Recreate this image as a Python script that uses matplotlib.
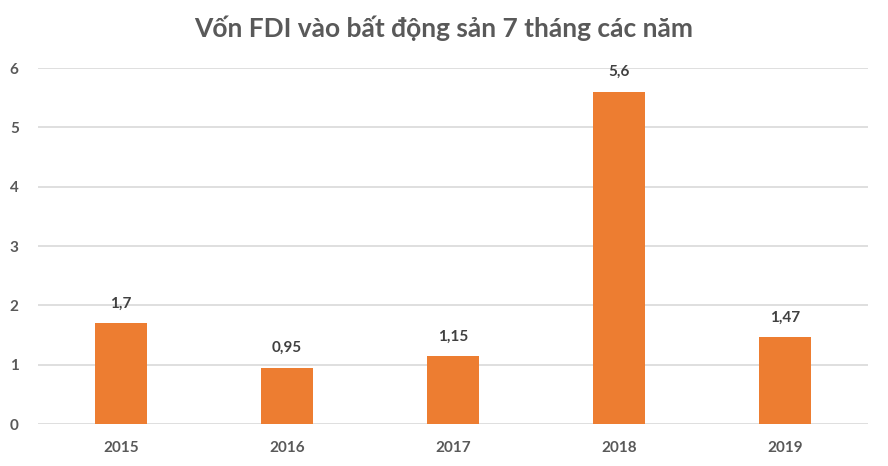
import matplotlib.pyplot as plt

years = ["2015", "2016", "2017", "2018", "2019"]
fdi = [1.7, 0.95, 1.15, 5.6, 1.47]
value_labels = ["1,7", "0,95", "1,15", "5,6", "1,47"]

plt.rcParams['font.family'] = ['Lato', 'DejaVu Sans']
grey = "#595959"


def main():
    fig = plt.figure(figsize=(8.88, 4.66), dpi=100)
    ax = fig.add_axes([0.043, 0.090, 0.934, 0.764])
    x = range(len(years))
    ax.bar(x, fdi, width=0.313, color="#ED7D31", zorder=3)
    for xi, v, lab in zip(x, fdi, value_labels):
        ax.annotate(lab, (xi, v), xytext=(0, 9), textcoords="offset points",
                    ha="center", va="bottom", fontsize=11, fontweight="bold", color="#404040")
    ax.set_xlim(-0.5, 4.5)
    ax.set_ylim(0, 6)
    ax.set_yticks(range(7))
    ax.set_xticks(list(x))
    ax.set_xticklabels(years)
    ax.tick_params(axis="both", length=0, labelsize=11, labelcolor=grey)
    ax.tick_params(axis="x", pad=12)
    ax.tick_params(axis="y", pad=14)
    for t in ax.get_xticklabels() + ax.get_yticklabels():
        t.set_fontweight("bold")
    ax.grid(axis="y", color="#D9D9D9", linewidth=1.2, zorder=0)
    for spine in ax.spines.values():
        spine.set_visible(False)
    fig.text(0.5, 0.94, "Vốn FDI vào bất động sản 7 tháng các năm", ha="center", va="center",
             fontsize=19, fontweight="bold", color=grey)
    fig.savefig("out.png", dpi=100)


if __name__ == "__main__":
    main()
